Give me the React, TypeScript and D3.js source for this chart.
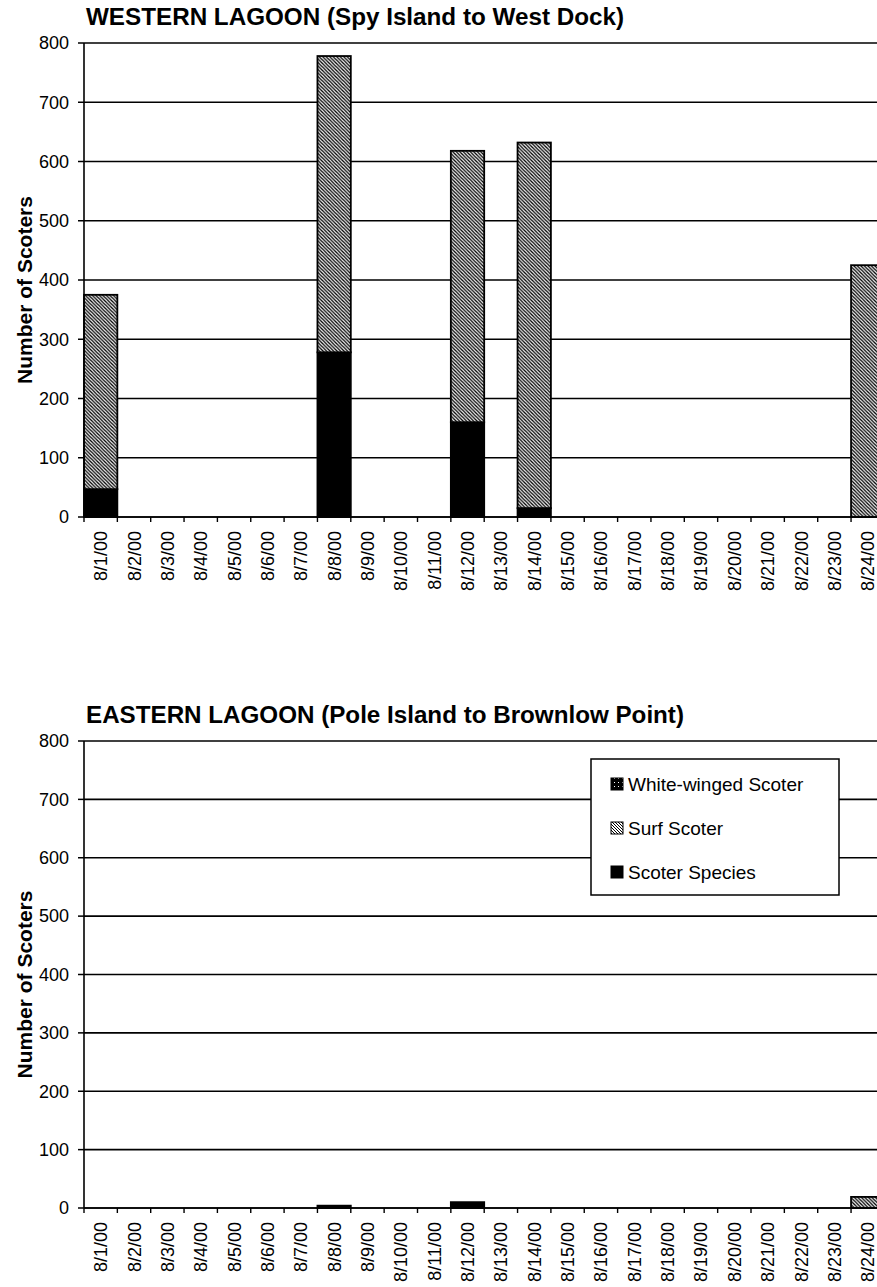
import React from 'react';
import * as d3 from 'd3';

const dates = ['8/1/00','8/2/00','8/3/00','8/4/00','8/5/00','8/6/00','8/7/00','8/8/00','8/9/00','8/10/00','8/11/00','8/12/00','8/13/00','8/14/00','8/15/00','8/16/00','8/17/00','8/18/00','8/19/00','8/20/00','8/21/00','8/22/00','8/23/00','8/24/00'];
const yTicks = [0, 100, 200, 300, 400, 500, 600, 700, 800];
const legendNames = ['White-winged Scoter', 'Surf Scoter', 'Scoter Species'];

const westWhiteWinged = [0,0,0,0,0,0,0,0,0,0,0,0,0,0,0,0,0,0,0,0,0,0,0,0];
const westSurf =        [328,0,0,0,0,0,0,500,0,0,0,458,0,617,0,0,0,0,0,0,0,0,0,425];
const westSpecies =     [47,0,0,0,0,0,0,278,0,0,0,160,0,15,0,0,0,0,0,0,0,0,0,0];

const eastWhiteWinged = [0,0,0,0,0,0,0,0,0,0,0,0,0,0,0,0,0,0,0,0,0,0,0,0];
const eastSurf =        [0,0,0,0,0,0,0,0,0,0,0,0,0,0,0,0,0,0,0,0,0,0,0,19];
const eastSpecies =     [0,0,0,0,0,0,0,4,0,0,0,10,0,0,0,0,0,0,0,0,0,0,0,0];

const FONT = "Arial, 'Liberation Sans', Helvetica, sans-serif";
const X0 = 84;
const STEP = 33.35;

type ChartProps = {
  title: string;
  titleY: number;
  titleLen: number;
  yTop: number;
  yZero: number;
  ww: number[];
  surf: number[];
  species: number[];
  legend?: boolean;
};

const keys = ['species', 'surf', 'ww'];
const fills: Record<string, string> = { species: '#000', surf: 'url(#hatch)', ww: 'url(#checker)' };

function Chart({ title, titleY, titleLen, yTop, yZero, ww, surf, species, legend }: ChartProps) {
  const x = d3.scaleBand<string>().domain(dates).range([X0, X0 + STEP * dates.length]).padding(0);
  const y = d3.scaleLinear().domain([0, 800]).range([yZero, yTop]);
  const rows = dates.map((d, i) => ({ date: d, species: species[i], surf: surf[i], ww: ww[i] }));
  const stacked = d3.stack<any>().keys(keys)(rows);
  const right = X0 + STEP * dates.length;
  const midY = (yTop + yZero) / 2 + 10;
  return (
    <g>
      <text x={86} y={titleY} fontFamily={FONT} fontWeight="bold" fontSize={23} textLength={titleLen} lengthAdjust="spacingAndGlyphs">{title}</text>
      {yTicks.map(t => (
        <g key={t}>
          <line x1={X0} x2={right} y1={y(t)} y2={y(t)} stroke="#000" strokeWidth={1.6} />
          <line x1={X0 - 6} x2={X0} y1={y(t)} y2={y(t)} stroke="#000" strokeWidth={1.5} />
          <text x={69} y={y(t)} dy="0.35em" textAnchor="end" fontFamily={FONT} fontSize={18}>{t}</text>
        </g>
      ))}
      {stacked.map(s => (
        <g key={s.key}>
          {s.map((p, i) => {
            const h = y(p[0]) - y(p[1]);
            if (h <= 0) return null;
            return <rect key={i} x={x(dates[i])} y={y(p[1])} width={x.bandwidth()} height={h} fill={fills[s.key]} stroke="#000" strokeWidth={1.8} />;
          })}
        </g>
      ))}
      <line x1={X0} x2={X0} y1={yTop} y2={yZero} stroke="#000" strokeWidth={1.6} />
      <line x1={X0} x2={right} y1={yZero} y2={yZero} stroke="#000" strokeWidth={1.6} />
      {d3.range(dates.length + 1).map(i => (
        <line key={i} x1={X0 + i * STEP} x2={X0 + i * STEP} y1={yZero} y2={yZero + 5} stroke="#000" strokeWidth={1.4} />
      ))}
      {dates.map(d => {
        const cx = (x(d) as number) + x.bandwidth() / 2 + 6.5;
        return (
          <text key={d} transform={`translate(${cx},${yZero + 14}) rotate(-90)`} textAnchor="end" fontFamily={FONT} fontSize={18}>{d}</text>
        );
      })}
      <text transform={`translate(32,${midY}) rotate(-90)`} textAnchor="middle" fontFamily={FONT} fontWeight="bold" fontSize={21}>Number of Scoters</text>
      {legend && (
        <g>
          <rect x={591} y={759} width={248} height={136} fill="#fff" stroke="#000" strokeWidth={1.5} />
          {legendNames.map((n, i) => {
            const ry = 784 + i * 44;
            const f = i === 0 ? 'url(#checker)' : i === 1 ? 'url(#hatchSmall)' : '#000';
            return (
              <g key={n}>
                <rect x={611} y={ry - 6} width={12} height={12} fill={f} stroke="#000" strokeWidth={1} />
                <text x={628} y={ry} dy="0.35em" fontFamily={FONT} fontSize={19}>{n}</text>
              </g>
            );
          })}
        </g>
      )}
    </g>
  );
}

export default function App() {
  return (
    <svg width={877} height={1287} style={{ position: 'absolute', left: 0, top: 0, background: '#fff' }}>
      <defs>
        <pattern id="hatch" patternUnits="userSpaceOnUse" width={3.5} height={3.5}>
          <rect width={3.5} height={3.5} fill="#fff" />
          <path d="M0,0 L3.5,3.5 M-1,2.5 L1,4.5 M2.5,-1 L4.5,1" stroke="#000" strokeWidth={1.3} />
        </pattern>
        <pattern id="hatchSmall" patternUnits="userSpaceOnUse" width={3} height={3}>
          <rect width={3} height={3} fill="#fff" />
          <path d="M0,0 L3,3 M-1,2 L1,4 M2,-1 L4,1" stroke="#000" strokeWidth={1} />
        </pattern>
        <pattern id="checker" patternUnits="userSpaceOnUse" width={4} height={4}>
          <rect width={4} height={4} fill="#000" />
          <rect x={2} y={2} width={1} height={1} fill="#fff" />
        </pattern>
      </defs>
      <rect width={877} height={1287} fill="#fff" />
      <Chart title="WESTERN LAGOON (Spy Island to West Dock)" titleY={25} titleLen={538} yTop={43} yZero={517} ww={westWhiteWinged} surf={westSurf} species={westSpecies} />
      <Chart title="EASTERN LAGOON (Pole Island to Brownlow Point)" titleY={723} titleLen={598} yTop={741} yZero={1208} ww={eastWhiteWinged} surf={eastSurf} species={eastSpecies} legend />
    </svg>
  );
}
